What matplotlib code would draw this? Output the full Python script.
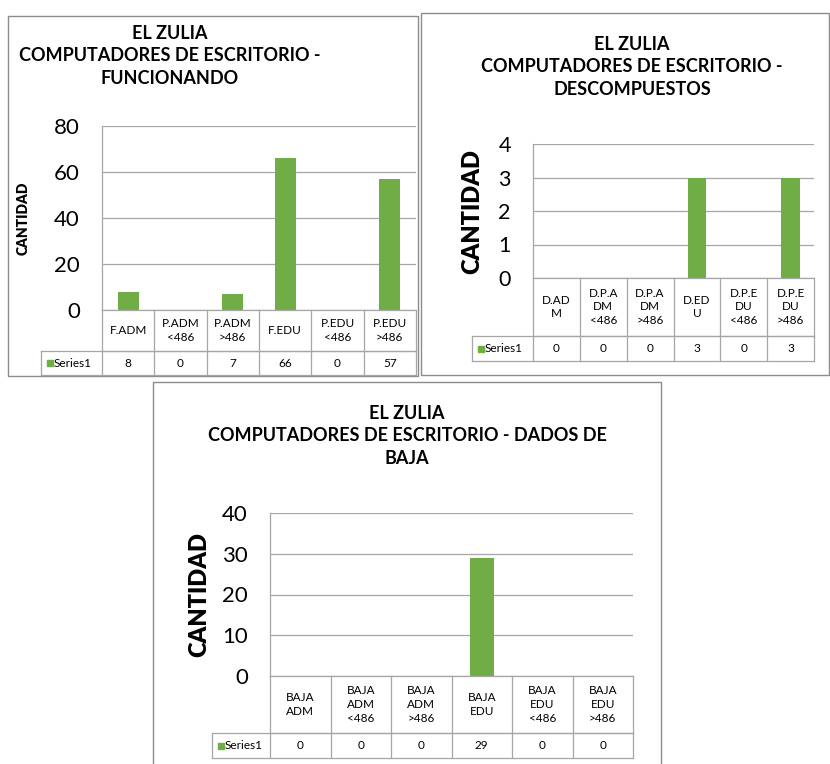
import matplotlib
matplotlib.use("Agg")
import matplotlib.pyplot as plt
from matplotlib.lines import Line2D
from matplotlib.patches import Rectangle

plt.rcParams['font.family'] = ['Lato', 'DejaVu Sans']

# ---- data ----
title_1 = "EL ZULIA\nCOMPUTADORES DE ESCRITORIO -\nFUNCIONANDO"
cats_1 = ["F.ADM", "P.ADM\n<486", "P.ADM\n>486", "F.EDU", "P.EDU\n<486", "P.EDU\n>486"]
vals_1 = [8, 0, 7, 66, 0, 57]

title_2 = "EL ZULIA\nCOMPUTADORES DE ESCRITORIO -\nDESCOMPUESTOS"
cats_2 = ["D.AD\nM", "D.P.A\nDM\n<486", "D.P.A\nDM\n>486", "D.ED\nU", "D.P.E\nDU\n<486", "D.P.E\nDU\n>486"]
vals_2 = [0, 0, 0, 3, 0, 3]

title_3 = "EL ZULIA\nCOMPUTADORES DE ESCRITORIO - DADOS DE\nBAJA"
cats_3 = ["BAJA\nADM", "BAJA\nADM\n<486", "BAJA\nADM\n>486", "BAJA\nEDU", "BAJA\nEDU\n<486", "BAJA\nEDU\n>486"]
vals_3 = [0, 0, 0, 29, 0, 0]

series_name = "Series1"
ylabel = "CANTIDAD"

W, H = 830, 764
BAR = '#70AD47'
GRID = '#A6A6A6'
BORDER = '#8C8C8C'

fig = plt.figure(figsize=(W / 100, H / 100), dpi=100)


def fx(x):
    return x / W


def fy(y):
    return 1 - y / H


def line(x0, y0, x1, y1, color=GRID, lw=0.9):
    fig.add_artist(Line2D([fx(x0), fx(x1)], [fy(y0), fy(y1)], color=color,
                          lw=lw, transform=fig.transFigure))


def panel(box, plot, hdr_bottom, row_bottom, key_left, title, title_xy, cats, vals,
          ymax, step, ylab_x, ylab_size, tick_size):
    bx0, by0, bx1, by1 = box
    fig.add_artist(Rectangle((fx(bx0), fy(by1)), fx(bx1 - bx0), (by1 - by0) / H,
                             fill=False, ec=BORDER, lw=1.0, transform=fig.transFigure))
    px0, py0, px1, py1 = plot
    ax = fig.add_axes([fx(px0), fy(py1), fx(px1 - px0), (py1 - py0) / H])
    n = len(cats)
    ax.bar(range(n), vals, width=0.4, color=BAR, zorder=3)
    ax.set_xlim(-0.5, n - 0.5)
    ax.set_ylim(0, ymax)
    ax.set_yticks(range(0, ymax + 1, step))
    ax.tick_params(axis='y', length=0, labelsize=tick_size, pad=16)
    ax.set_xticks([])
    ax.grid(axis='y', color=GRID, lw=0.9, zorder=0)
    for s in ['top', 'right', 'bottom']:
        ax.spines[s].set_visible(False)
    ax.spines['left'].set_color(GRID)
    ax.spines['left'].set_linewidth(0.9)
    ax.patch.set_alpha(0)

    fig.text(fx(ylab_x), fy((py0 + py1) / 2), ylabel, rotation=90, ha='center',
             va='center', fontsize=ylab_size, fontweight='heavy')
    fig.text(fx(title_xy[0]), fy(title_xy[1]), title, ha='center', va='top',
             fontsize=13, fontweight='bold', linespacing=1.38)

    # data table
    cw = (px1 - px0) / n
    line(px0, py1, px1, py1)
    line(px0, hdr_bottom, px1, hdr_bottom)
    line(key_left, hdr_bottom, px1, hdr_bottom)
    line(key_left, row_bottom, px1, row_bottom)
    line(key_left, hdr_bottom, key_left, row_bottom)
    for i in range(n + 1):
        line(px0 + i * cw, py1, px0 + i * cw, row_bottom)
    for i, (c, v) in enumerate(zip(cats, vals)):
        cx = px0 + (i + 0.5) * cw
        fig.text(fx(cx), fy((py1 + hdr_bottom) / 2), c, ha='center', va='center',
                 fontsize=8.5, linespacing=1.3)
        fig.text(fx(cx), fy((hdr_bottom + row_bottom) / 2), str(v), ha='center',
                 va='center', fontsize=8.5)
    fig.add_artist(Rectangle((fx(key_left + 6), fy((hdr_bottom + row_bottom) / 2 + 3)),
                             fx(6), 6 / H, color=BAR, transform=fig.transFigure))
    fig.text(fx(key_left + 13), fy((hdr_bottom + row_bottom) / 2), series_name,
             ha='left', va='center', fontsize=8.5)


panel((8, 16, 418, 376), (102, 126, 416, 310), 351, 375, 41,
      title_1, (170, 25), cats_1, vals_1, 80, 20, 23, 10, 16)
panel((421, 13, 829, 375), (533, 144, 814, 278), 336, 361, 472,
      title_2, (632, 36), cats_2, vals_2, 4, 1, 472, 17, 15.5)
panel((153, 382, 661, 770), (270, 513, 633, 676), 733, 758, 212,
      title_3, (407, 405), cats_3, vals_3, 40, 10, 199, 17, 16)

fig.savefig("out.png", dpi=100, facecolor='white')
